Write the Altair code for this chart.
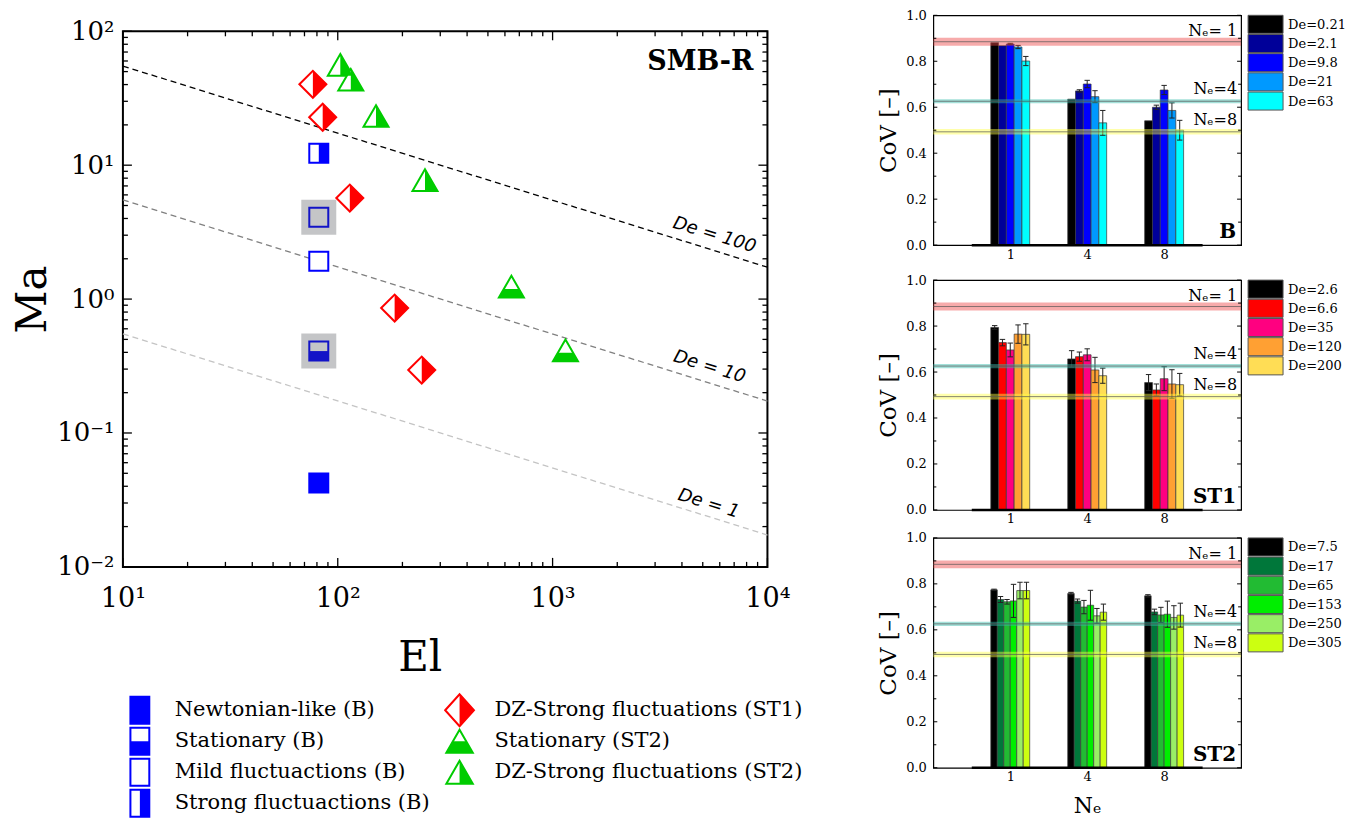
import altair as alt
import pandas as pd

FONT = "DejaVu Serif"
BLUE = "#0000ff"
RED = "#ff0000"
GREEN = "#00cc00"

# ---------------- Left: regime map (El vs Ma) ----------------
newt_B_El = [81.6]
newt_B_Ma = [0.0423]
stat_B_El = [81.6]
stat_B_Ma = [0.409]
mild_B_El = [81.6, 81.6]
mild_B_Ma = [1.92, 4.09]
strong_B_El = [81.6]
strong_B_Ma = [12.3]
dzst1_El = [76.6, 85.1, 113.8, 184.0, 246.0]
dzst1_Ma = [40.2, 22.8, 5.68, 0.857, 0.295]
statst2_El = [643.0, 1148.0]
statst2_Ma = [1.24, 0.414]
dzst2_El = [102.8, 115.0, 150.7, 254.7]
dzst2_Ma = [56.1, 43.5, 23.3, 7.73]
highlight_El = [81.6, 81.6]
highlight_Ma = [4.09, 0.409]

de_names = ["De = 100", "De = 10", "De = 1"]
de_colors = ["#000000", "#808080", "#c4c4c4"]
de_line_El = [10, 10000]
de100_Ma = [55.0, 1.73]
de10_Ma = [5.5, 0.173]
de1_Ma = [0.55, 0.0173]
de_label_El = [5660, 5370, 5320]
de_label_Ma = [3.0, 0.311, 0.0295]

x_tick_vals = [10, 100, 1000, 10000]
x_tick_text = ["10¹", "10²", "10³", "10⁴"]
y_tick_vals = [0.01, 0.1, 1, 10, 100]
y_tick_text = ["10⁻²", "10⁻¹", "10⁰", "10¹", "10²"]

leg_labels = ["Newtonian-like (B)", "Stationary (B)", "Mild fluctuactions (B)",
              "Strong fluctuactions (B)", "DZ-Strong fluctuations (ST1)",
              "Stationary (ST2)", "DZ-Strong fluctuations (ST2)"]
leg_col = [0, 0, 0, 0, 1, 1, 1]
leg_row = [0, 1, 2, 3, 0, 1, 2]

# ---------------- Right: CoV bar panels ----------------
ne_labels = ["1", "4", "8"]

B_de = ["De=0.21", "De=2.1", "De=9.8", "De=21", "De=63"]
B_colors = ["#000000", "#000099", "#0000ff", "#0099ff", "#00ffff"]
B_cov = [[0.881, 0.635, 0.541], [0.868, 0.671, 0.600], [0.875, 0.701, 0.675],
         [0.862, 0.646, 0.586], [0.801, 0.532, 0.500]]
B_err = [[0.0, 0.0, 0.0], [0.0, 0.005, 0.009], [0.003, 0.016, 0.020],
         [0.007, 0.026, 0.033], [0.020, 0.054, 0.043]]

ST1_de = ["De=2.6", "De=6.6", "De=35", "De=120", "De=200"]
ST1_colors = ["#000000", "#ff0000", "#ff0080", "#ffa033", "#ffdd55"]
ST1_cov = [[0.794, 0.657, 0.554], [0.728, 0.667, 0.522], [0.696, 0.675, 0.571],
           [0.765, 0.609, 0.548], [0.764, 0.584, 0.545]]
ST1_err = [[0.008, 0.036, 0.035], [0.014, 0.020, 0.026], [0.030, 0.026, 0.052],
           [0.040, 0.055, 0.062], [0.046, 0.033, 0.049]]

ST2_de = ["De=7.5", "De=17", "De=65", "De=153", "De=250", "De=305"]
ST2_colors = ["#000000", "#00773a", "#22bb33", "#00ee00", "#99ee66", "#ccff11"]
ST2_cov = [[0.774, 0.758, 0.748], [0.732, 0.725, 0.678], [0.722, 0.699, 0.665],
           [0.726, 0.707, 0.668], [0.771, 0.661, 0.654], [0.771, 0.677, 0.664]]
ST2_err = [[0.003, 0.005, 0.005], [0.013, 0.009, 0.012], [0.010, 0.029, 0.033],
           [0.072, 0.065, 0.057], [0.036, 0.032, 0.051], [0.036, 0.035, 0.052]]

ref_names = ["Nₑ= 1", "Nₑ=4", "Nₑ=8"]
ref_cov = [0.885, 0.626, 0.493]
ref_half = [0.017, 0.009, 0.012]
ref_band_colors = ["#ee4444", "#33bbaa", "#ffff44"]
ref_label_cov = [0.908, 0.656, 0.521]

# ---------------- shapes ----------------
SQ = "M-1,-1L1,-1L1,1L-1,1Z"
SQ_R = "M0,-1L1,-1L1,1L0,1Z"
SQ_B = "M-1,0L1,0L1,1L-1,1Z"
DIA = "M-1,0L0,-1L1,0L0,1Z"
DIA_R = "M0,-1L1,0L0,1Z"
TRI = "M0,-0.866L1,0.866L-1,0.866Z"
TRI_R = "M0,-0.866L1,0.866L0,0.866Z"
TRI_B = "M-0.62,0.2L0.62,0.2L1,0.866L-1,0.866Z"
LSQ = "M-0.7,-1L0.7,-1L0.7,1L-0.7,1Z"
LSQ_R = "M0,-1L0.7,-1L0.7,1L0,1Z"
LSQ_B = "M-0.7,0L0.7,0L0.7,1L-0.7,1Z"
LDIA = "M-0.9,0L0,-1L0.9,0L0,1Z"
LDIA_R = "M0,-1L0.9,0L0,1Z"
TRI_BL = "M-0.5,0L0.5,0L1,0.866L-1,0.866Z"


def lexpr(vals, texts):
    s = "''"
    for v, t in reversed(list(zip(vals, texts))):
        s = f"(abs(datum.value - {v}) < {v} * 1e-6 ? '{t}' : {s})"
    return s


W, H = 645, 536
xs = alt.Scale(type="log", domain=[10, 10000], nice=False)
ys = alt.Scale(type="log", domain=[0.01, 100], nice=False)

lines_df = pd.DataFrame({
    "El": de_line_El * 3,
    "Ma": de100_Ma + de10_Ma + de1_Ma,
    "De": [n for n in de_names for _ in range(2)],
    "col": [c for c in de_colors for _ in range(2)],
})
lines = alt.Chart(lines_df).mark_line(strokeDash=[6, 4], strokeWidth=1.3).encode(
    x=alt.X("El:Q", scale=xs, axis=alt.Axis(
        values=x_tick_vals, labelExpr=lexpr(x_tick_vals, x_tick_text), tickSize=0,
        domain=False, grid=False, labelFont=FONT, labelFontSize=27, labelColor="black",
        labelPadding=19, labelFlush=False, labelOverlap=False, title="El", titleFont=FONT,
        titleFontSize=42, titleFontWeight="normal", titleColor="black", titlePadding=26,
        titleX=297)),
    y=alt.Y("Ma:Q", scale=ys, axis=alt.Axis(
        values=y_tick_vals, labelExpr=lexpr(y_tick_vals, y_tick_text), tickSize=0,
        domain=False, grid=False, labelFont=FONT, labelFontSize=26, labelColor="black",
        labelPadding=9, labelFlush=False, labelOverlap=False, title="Ma", titleFont=FONT,
        titleFontSize=42, titleFontWeight="normal", titleColor="black", titlePadding=2)),
    color=alt.Color("col:N", scale=None),
    detail="De:N",
)

lab_df = pd.DataFrame({"El": de_label_El, "Ma": de_label_Ma, "t": de_names})
de_labels = alt.Chart(lab_df).mark_text(
    font="DejaVu Sans", fontStyle="italic", fontSize=18, angle=17, color="black"
).encode(x=alt.X("El:Q", scale=xs), y=alt.Y("Ma:Q", scale=ys), text="t:N")


def marker(El, Ma, shape, size, fill, stroke, sw):
    df = pd.DataFrame({"El": El, "Ma": Ma})
    return alt.Chart(df).mark_point(
        shape=shape, size=size, filled=True, fill=fill, stroke=stroke,
        strokeWidth=sw, opacity=1
    ).encode(x=alt.X("El:Q", scale=xs), y=alt.Y("Ma:Q", scale=ys))


SQS, DIS, TRS = 361, 729, 625
markers = [
    marker(newt_B_El, newt_B_Ma, SQ, SQS, BLUE, BLUE, 2),
    marker(stat_B_El, stat_B_Ma, SQ, SQS, "white", BLUE, 2),
    marker(stat_B_El, stat_B_Ma, SQ_B, SQS, BLUE, BLUE, 0),
    marker(mild_B_El, mild_B_Ma, SQ, SQS, "white", BLUE, 2),
    marker(strong_B_El, strong_B_Ma, SQ, SQS, "white", BLUE, 2),
    marker(strong_B_El, strong_B_Ma, SQ_R, SQS, BLUE, BLUE, 0),
    marker(dzst1_El, dzst1_Ma, DIA, DIS, "white", RED, 2),
    marker(dzst1_El, dzst1_Ma, DIA_R, DIS, RED, RED, 0),
    marker(statst2_El, statst2_Ma, TRI, TRS, "white", GREEN, 2),
    marker(statst2_El, statst2_Ma, TRI_B, TRS, GREEN, GREEN, 0),
    marker(dzst2_El, dzst2_Ma, TRI, TRS, "white", GREEN, 2),
    marker(dzst2_El, dzst2_Ma, TRI_R, TRS, GREEN, GREEN, 0),
]
hl_df = pd.DataFrame({"El": highlight_El, "Ma": highlight_Ma})
highlight = alt.Chart(hl_df).mark_point(
    shape=SQ, size=1225, filled=True, fill="#3c3f46", opacity=0.3, strokeWidth=0
).encode(x=alt.X("El:Q", scale=xs), y=alt.Y("Ma:Q", scale=ys))

x_minor = [m * 10 ** k for k in (1, 2, 3) for m in range(2, 10)]
y_minor = [round(m * 10.0 ** k, 6) for k in (-2, -1, 0, 1) for m in range(2, 10)]


def log_ticks(vals, length, axis):
    df = pd.DataFrame({"El": vals, "Ma": vals})
    base = alt.Chart(df).mark_rule(color="black", strokeWidth=1.3)
    if axis == "x":
        enc = alt.X("El:Q", scale=xs)
        return [base.encode(x=enc, y=alt.value(H), y2=alt.value(H - length)),
                base.encode(x=enc, y=alt.value(0), y2=alt.value(length))]
    enc = alt.Y("Ma:Q", scale=ys)
    return [base.encode(y=enc, x=alt.value(0), x2=alt.value(length)),
            base.encode(y=enc, x=alt.value(W), x2=alt.value(W - length))]


ticks = (log_ticks(x_tick_vals, 9, "x") + log_ticks(x_minor, 5, "x")
         + log_ticks(y_tick_vals, 9, "y") + log_ticks(y_minor, 5, "y"))

smb = alt.Chart(pd.DataFrame({"t": ["SMB-R"]})).mark_text(
    font=FONT, fontSize=27, fontWeight="bold", align="right", baseline="middle", color="black"
).encode(x=alt.value(W - 14), y=alt.value(31), text="t:N")

left_plot = alt.layer(lines, de_labels, *markers, highlight, *ticks, smb).properties(
    width=W, height=H, view=alt.ViewBackground(stroke="black", strokeWidth=2))

# ---- left legend ----
LH = 124
lxs = alt.Scale(domain=[-0.053, 1.963], nice=False, zero=False)
lys = alt.Scale(domain=[-0.5, 3.5], reverse=True, nice=False, zero=False)
leg_df = pd.DataFrame({"col": leg_col, "row": leg_row, "label": leg_labels})
leg_df["tx"] = leg_df["col"] + 0.109


def legmark(idx, shape, size, fill, stroke, sw):
    df = leg_df.iloc[[idx]]
    return alt.Chart(df).mark_point(
        shape=shape, size=size, filled=True, fill=fill, stroke=stroke,
        strokeWidth=sw, opacity=1
    ).encode(x=alt.X("col:Q", scale=lxs, axis=None), y=alt.Y("row:Q", scale=lys, axis=None))


LS = 729
leg_marks = [
    legmark(0, LSQ, LS, BLUE, BLUE, 2),
    legmark(1, LSQ, LS, "white", BLUE, 2), legmark(1, LSQ_B, LS, BLUE, BLUE, 0),
    legmark(2, LSQ, LS, "white", BLUE, 2),
    legmark(3, LSQ, LS, "white", BLUE, 2), legmark(3, LSQ_R, LS, BLUE, BLUE, 0),
    legmark(4, LDIA, 1024, "white", RED, 2), legmark(4, LDIA_R, 1024, RED, RED, 0),
    legmark(5, TRI, 700, "white", GREEN, 2), legmark(5, TRI_BL, 700, GREEN, GREEN, 0),
    legmark(6, TRI, 700, "white", GREEN, 2), legmark(6, TRI_R, 700, GREEN, GREEN, 0),
]
leg_text = alt.Chart(leg_df).mark_text(
    font=FONT, fontSize=21, align="left", baseline="middle", color="black"
).encode(x=alt.X("tx:Q", scale=lxs, axis=None), y=alt.Y("row:Q", scale=lys, axis=None), text="label:N")

left_legend = alt.layer(*leg_marks, leg_text).properties(
    width=W, height=LH, view=alt.ViewBackground(stroke="transparent"))

spacer = alt.Chart(pd.DataFrame({"a": [0]})).mark_rule(strokeWidth=0, opacity=0).encode(
    x=alt.value(0), y=alt.value(0), y2=alt.value(0)
).properties(width=1, height=1, view=alt.ViewBackground(stroke="transparent"))

left_v = alt.vconcat(spacer, alt.vconcat(left_plot, left_legend, spacing=10), spacing=0)

# ---------------- bar panels ----------------
PW, PH = 308, 230
bxs = alt.Scale(domain=[0, 4], nice=False, zero=False)
bys = alt.Scale(domain=[0, 1], nice=False, zero=False)
GROUP_W = 0.506
CAP = 0.035
ymaj = [0.0, 0.2, 0.4, 0.6, 0.8, 1.0]
ymin = [0.1, 0.3, 0.5, 0.7, 0.9]


def panel(names, colors, cov, err, tag, xtitle):
    n = len(names)
    bw = GROUP_W / n
    rows = []
    for k, nm in enumerate(names):
        for j in range(3):
            c = (j + 1) + (k - (n - 1) / 2) * bw
            v = cov[k][j]
            e = err[k][j]
            rows.append(dict(series=nm, col=colors[k], xc=c, x0=c - bw / 2, x1=c + bw / 2,
                             v=v, z=0.0, lo=v - e, hi=v + e, c0=c - CAP, c1=c + CAP, e=e))
    df = pd.DataFrame(rows)
    xaxis = alt.Axis(values=[1, 2, 3], labelExpr=lexpr([1, 2, 3], ne_labels), tickSize=0,
                     domain=False, grid=False, labelFont=FONT, labelFontSize=13,
                     labelColor="black", labelPadding=3, labelFlush=False,
                     title=xtitle, titleFont=FONT, titleFontSize=22,
                     titleFontWeight="normal", titleColor="black", titlePadding=12)
    yaxis = alt.Axis(values=ymaj, format=".1f", tickSize=0, domain=False, grid=False,
                     labelFont=FONT, labelFontSize=13, labelColor="black", labelPadding=7,
                     labelFlush=False, title="CoV [–]", titleFont=FONT, titleFontSize=23,
                     titleFontWeight="normal", titleColor="black", titlePadding=5)
    bars = alt.Chart(df).mark_rect(stroke="#3a3a3a", strokeWidth=0.7).encode(
        x=alt.X("x0:Q", scale=bxs, axis=xaxis), x2="x1:Q",
        y=alt.Y("v:Q", scale=bys, axis=yaxis), y2="z:Q",
        color=alt.Color("col:N", scale=None),
    )
    base_df = pd.DataFrame({"x0": [0.5], "x1": [3.5], "v": [0.0]})
    baseline = alt.Chart(base_df).mark_rule(color="black", strokeWidth=2.5).encode(
        x=alt.X("x0:Q", scale=bxs), x2="x1:Q", y=alt.Y("v:Q", scale=bys))
    edf = df[df["e"] > 0].copy()
    edf["x0"] = edf["xc"]
    edf["v"] = edf["lo"]
    ebar = alt.Chart(edf).mark_rule(color="#222222", strokeWidth=1).encode(
        x=alt.X("x0:Q", scale=bxs), y=alt.Y("v:Q", scale=bys), y2="hi:Q")
    cdf_lo = edf.copy()
    cdf_lo["x0"] = cdf_lo["c0"]
    cdf_hi = cdf_lo.copy()
    cdf_hi["v"] = cdf_hi["hi"]
    cap_lo = alt.Chart(cdf_lo).mark_rule(color="#222222", strokeWidth=1).encode(
        x=alt.X("x0:Q", scale=bxs), x2="c1:Q", y=alt.Y("v:Q", scale=bys))
    cap_hi = alt.Chart(cdf_hi).mark_rule(color="#222222", strokeWidth=1).encode(
        x=alt.X("x0:Q", scale=bxs), x2="c1:Q", y=alt.Y("v:Q", scale=bys))
    layers = [bars, baseline, ebar, cap_lo, cap_hi]
    for i in range(3):
        bdf = pd.DataFrame({"v": [ref_cov[i] - ref_half[i]], "hi": [ref_cov[i] + ref_half[i]]})
        layers.append(alt.Chart(bdf).mark_rect(color=ref_band_colors[i], opacity=0.45).encode(
            x=alt.value(0), x2=alt.value(PW),
            y=alt.Y("v:Q", scale=bys), y2="hi:Q"))
        ldf = pd.DataFrame({"v": [ref_cov[i]]})
        layers.append(alt.Chart(ldf).mark_rule(color="#555555", strokeWidth=1, opacity=0.7).encode(
            x=alt.value(0), x2=alt.value(PW), y=alt.Y("v:Q", scale=bys)))
    rl_df = pd.DataFrame({"t": ref_names, "v": ref_label_cov})
    layers.append(alt.Chart(rl_df).mark_text(
        font=FONT, fontSize=16, align="right", baseline="alphabetic", color="black"
    ).encode(x=alt.value(PW - 4), y=alt.Y("v:Q", scale=bys), text="t:N"))
    layers.append(alt.Chart(pd.DataFrame({"t": [tag]})).mark_text(
        font=FONT, fontSize=20, fontWeight="bold", align="right", baseline="alphabetic",
        color="black"
    ).encode(x=alt.value(PW - 5), y=alt.value(PH - 7), text="t:N"))
    for vals, ln in ((ymaj, 4), (ymin, 3)):
        tdf = pd.DataFrame({"v": vals})
        tb = alt.Chart(tdf).mark_rule(color="black", strokeWidth=1)
        layers.append(tb.encode(y=alt.Y("v:Q", scale=bys),
                                x=alt.value(0), x2=alt.value(ln)))
        layers.append(tb.encode(y=alt.Y("v:Q", scale=bys),
                                x=alt.value(PW), x2=alt.value(PW - ln)))
    return alt.layer(*layers).properties(
        width=PW, height=PH, view=alt.ViewBackground(stroke="black", strokeWidth=1.2))


def legend_chart(names, colors):
    n = len(names)
    df = pd.DataFrame({"name": names, "col": colors, "i": list(range(n))})
    df["i2"] = df["i"] + 0.94
    df["im"] = df["i"] + 0.5
    ly = alt.Scale(domain=[0, PH / 19.2], reverse=True, nice=False, zero=False)
    rect = alt.Chart(df).mark_rect(stroke="#555555", strokeWidth=1).encode(
        x=alt.value(0), x2=alt.value(35),
        y=alt.Y("i:Q", scale=ly, axis=None), y2="i2:Q",
        color=alt.Color("col:N", scale=None))
    text = alt.Chart(df).mark_text(
        font=FONT, fontSize=13, align="left", baseline="middle", color="black"
    ).encode(x=alt.value(40), y=alt.Y("im:Q", scale=ly, axis=None), text="name:N")
    return alt.layer(rect, text).properties(
        width=95, height=PH, view=alt.ViewBackground(stroke="transparent"))


rowB = alt.hconcat(panel(B_de, B_colors, B_cov, B_err, "B", None),
                   legend_chart(B_de, B_colors), spacing=4)
rowST1 = alt.hconcat(panel(ST1_de, ST1_colors, ST1_cov, ST1_err, "ST1", None),
                     legend_chart(ST1_de, ST1_colors), spacing=4)
rowST2 = alt.hconcat(panel(ST2_de, ST2_colors, ST2_cov, ST2_err, "ST2", "Nₑ"),
                     legend_chart(ST2_de, ST2_colors), spacing=4)
right_v = alt.vconcat(alt.vconcat(rowB, rowST1, spacing=11), rowST2, spacing=4)

chart = alt.hconcat(left_v, right_v, spacing=73).properties(
    padding={"left": 2, "top": 0, "right": 0, "bottom": 0}
).configure(font=FONT, background="white").configure_view(stroke="black")

chart.save("out.html", embed_options={"renderer": "svg", "actions": False})
